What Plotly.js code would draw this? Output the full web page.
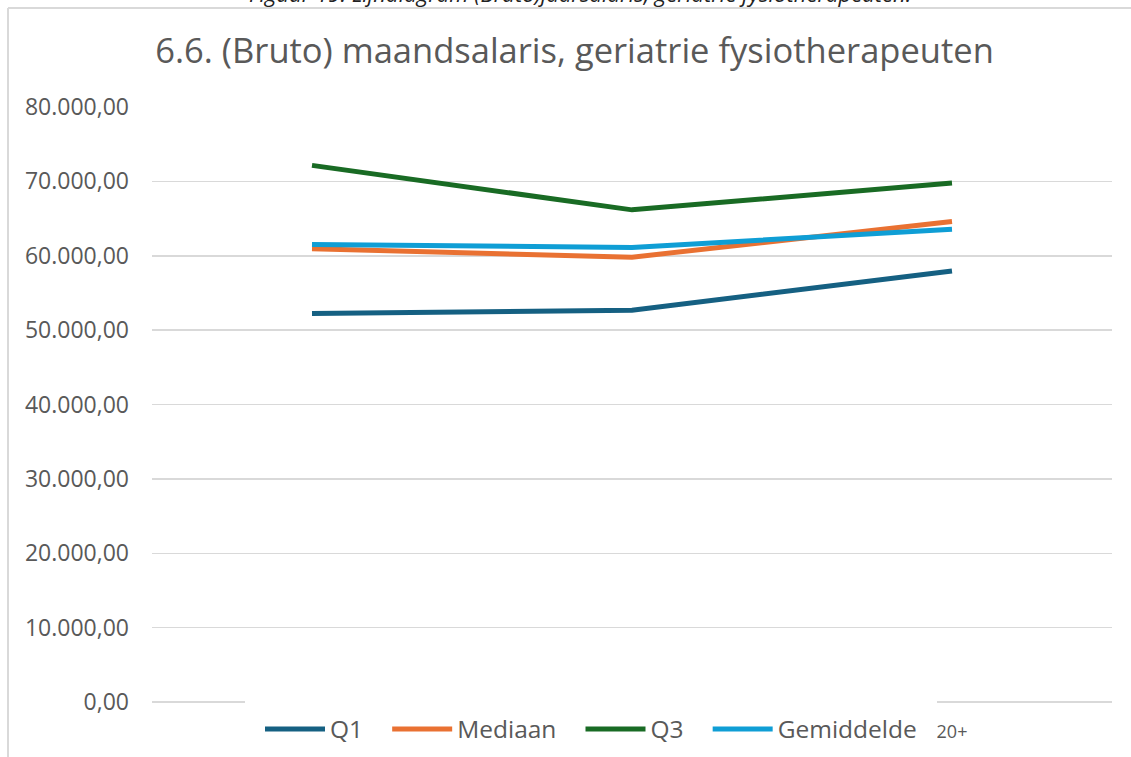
<!DOCTYPE html>
<html>
<head>
<meta charset="utf-8">
<script src="https://cdn.plot.ly/plotly-3.0.1.min.js"></script>
<style>html,body{margin:0;padding:0;background:#fff;}#chart{width:1131px;height:757px;}</style>
</head>
<body>
<div id="chart"></div>
<script>
// Data
var categories = ["0-10", "10-20", "20+"];
var visibleTickLabels = ["20+"];   // the other tick labels are hidden behind the legend
var q1 = [52230, 52670, 57940];
var mediaan = [60940, 59810, 64600];
var q3 = [72150, 66170, 69790];
var gemiddelde = [61520, 61110, 63570];
var seriesNames = ["Q1", "Mediaan", "Q3", "Gemiddelde"];
var seriesColors = ["#156082", "#E97132", "#196B24", "#0F9ED5"];
var titleText = "6.6. (Bruto) maandsalaris, geriatrie fysiotherapeuten";
var captionText = "Figuur 19: Lijndiagram (Bruto)jaarsalaris, geriatrie fysiotherapeuten.";

var W = 1131, H = 757;
var L = 152, R = 19, T = 107, B = 55;
var pw = W - L - R, ph = H - T - B;
function px(x) { return (x - L) / pw; }
function py(y) { return (H - B - y) / ph; }

var pad = "\u00A0\u00A0\u00A0";
var allSeries = [q1, mediaan, q3, gemiddelde];
var traces = allSeries.map(function (vals, i) {
  return {
    x: categories, y: vals, type: "scatter", mode: "lines",
    name: seriesNames[i] + pad,
    line: {color: seriesColors[i], width: 5}
  };
});

var font = "Open Sans, Liberation Sans, Arial, sans-serif";
var layout = {
  width: W, height: H,
  margin: {l: L, r: R, t: T, b: B},
  paper_bgcolor: "#fff", plot_bgcolor: "#fff",
  separators: ",.",
  font: {family: font, color: "#595959"},
  title: {
    text: titleText, xref: "container", x: 0.508, xanchor: "center",
    yref: "container", y: 1 - 51 / H, yanchor: "middle",
    font: {size: 34.5, color: "#595959", family: font}
  },
  xaxis: {
    type: "category", range: [-0.5, 2.5], automargin: false,
    tickmode: "array", tickvals: visibleTickLabels, ticktext: visibleTickLabels,
    showgrid: false, zeroline: false, showline: false,
    ticks: "", ticklabelstandoff: 17,
    tickfont: {size: 18, color: "#595959"}, fixedrange: true
  },
  yaxis: {
    range: [0, 80000], dtick: 10000, tickformat: ",.2f", automargin: false,
    showgrid: true, gridcolor: "#d9d9d9", gridwidth: 1.5,
    zeroline: true, zerolinecolor: "#d9d9d9", zerolinewidth: 1.5,
    showline: false, ticks: "", ticklabelstandoff: 22,
    tickfont: {size: 23, color: "#595959"}
  },
  showlegend: true,
  legend: {
    orientation: "h",
    xref: "container", x: 260 / W, xanchor: "left",
    yref: "container", y: 1 - 729 / H, yanchor: "middle",
    bgcolor: "rgba(0,0,0,0)", font: {size: 24.5, color: "#595959"},
    itemwidth: 60, traceorder: "normal"
  },
  shapes: [
    {type: "rect", xref: "paper", yref: "paper", x0: px(245), x1: px(937), y0: py(696), y1: py(757),
     fillcolor: "#ffffff", line: {width: 0}, layer: "above"},
    {type: "line", xref: "paper", yref: "paper", x0: px(8), x1: px(1131), y0: py(8), y1: py(8),
     line: {color: "#d9d9d9", width: 2}},
    {type: "line", xref: "paper", yref: "paper", x0: px(8), x1: px(8), y0: py(8), y1: py(757),
     line: {color: "#d9d9d9", width: 2}}
  ],
  annotations: [
    {text: "<i>" + captionText + "</i>", xref: "paper", yref: "paper",
     x: px(580), xanchor: "center", y: py(10), yanchor: "bottom",
     showarrow: false, font: {size: 22, color: "#222", family: font}}
  ]
};

Plotly.newPlot("chart", traces, layout, {displayModeBar: false, staticPlot: true});
</script>
</body>
</html>
